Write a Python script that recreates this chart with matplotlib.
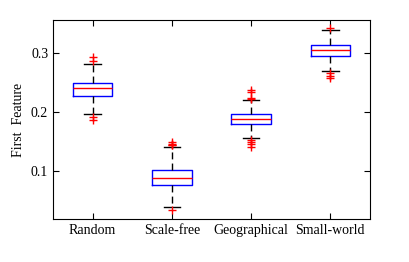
import matplotlib
matplotlib.use("Agg")
import matplotlib.pyplot as plt

# network types and box statistics
labels = ["Random", "Scale-free", "Geographical", "Small-world"]
whislo = [0.1966, 0.039, 0.1565, 0.270]
q1 = [0.2271, 0.0763, 0.1797, 0.2949]
med = [0.2407, 0.0876, 0.1887, 0.3051]
q3 = [0.249, 0.1017, 0.1966, 0.3136]
whishi = [0.2814, 0.1412, 0.2209, 0.339]
fliers = [
    [0.2927, 0.287, 0.1915, 0.186],
    [0.149, 0.1465, 0.1445, 0.1435, 0.035],
    [0.2379, 0.2333, 0.2232, 0.2225, 0.152, 0.1486, 0.1452, 0.1407],
    [0.343, 0.2655, 0.2616, 0.257],
]

plt.rcParams['font.family'] = ['Liberation Serif', 'DejaVu Serif']

stats = []
for i in range(len(labels)):
    stats.append(dict(label=labels[i], whislo=whislo[i], q1=q1[i], med=med[i],
                      q3=q3[i], whishi=whishi[i], fliers=fliers[i]))

fig = plt.figure(figsize=(4.09, 2.62), dpi=100)
ax = fig.add_axes([0.1296, 0.1641, 0.775, 0.7596])
ax.bxp(stats, positions=[1, 2, 3, 4], widths=0.5,
       boxprops=dict(color="blue", linewidth=1),
       medianprops=dict(color="red", linewidth=1),
       whiskerprops=dict(color="black", linestyle=(0, (5, 3)), linewidth=1),
       capprops=dict(color="black", linewidth=1),
       flierprops=dict(marker="+", markeredgecolor="red", markersize=6, linestyle="none"),
       capwidths=0.21)
ax.set_xlim(0.5, 4.5)
ax.set_ylim(0.019, 0.356)
ax.set_yticks([0.1, 0.2, 0.3])
ax.set_xticks([1, 2, 3, 4])
ax.set_xticklabels(labels)
ax.tick_params(direction="in", top=True, right=True, labelsize=10, length=4)
ax.set_ylabel("First  Feature", fontsize=10)
fig.savefig("out.png", dpi=100)
